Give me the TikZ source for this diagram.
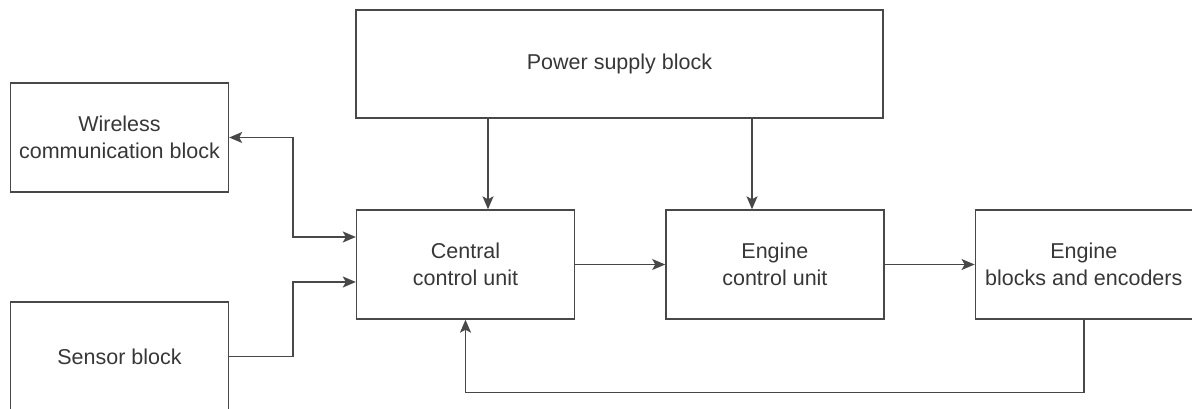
\documentclass[tikz,border=0pt]{standalone}
\usepackage{fontspec}
\setmainfont{Liberation Sans}
\usepackage{xcolor}
\usepackage{tikz}
\definecolor{lineclr}{RGB}{72,72,72}
\definecolor{textclr}{RGB}{55,55,55}
\usetikzlibrary{arrows.meta,positioning,calc}

\begin{document}
\begin{tikzpicture}[
    x=1pt, y=1pt,
    node distance=90pt,
    box/.style={rectangle, draw=lineclr, line width=1.4pt, minimum width=218pt, minimum height=109pt, align=center, text=textclr, font=\fontsize{21.5pt}{26.5pt}\selectfont},
    arrow/.style={-{Stealth[length=13pt,width=11pt,inset=3pt]}, draw=lineclr, line width=1.4pt},
    dblarrow/.style={{Stealth[length=13pt,width=11pt,inset=3pt]}-{Stealth[length=13pt,width=11pt,inset=3pt]}, draw=lineclr, line width=1.4pt}
]
\useasboundingbox (0,0) rectangle (1192,-409);

\node[box] (central) at (465.5,-264.5) {Central\\control unit};
\node[box, right=90pt of central] (engine) {Engine\\control unit};
\node[box, right=90pt of engine, minimum width=217pt] (blocks) {Engine\\blocks and encoders};
\node[box, minimum width=527pt, minimum height=108pt] (power) at (619.5,-64) {Power supply block};
\node[box] (wireless) at (119.5,-137.5) {Wireless\\communication block};
\node[box] (sensor) at (119.5,-356.5) {Sensor block};

% bend points of the two side links
\coordinate (wbend) at (293,-137.5);
\coordinate (sbend) at (293,-356.5);

\draw[arrow] ([xshift=-131.5pt]power.south) -- ([xshift=-131.5pt]power.south |- central.north);
\draw[arrow] ([xshift=132.5pt]power.south) -- ([xshift=132.5pt]power.south |- engine.north);
\draw[dblarrow] (wireless.east) -- (wbend) |- ([yshift=27.5pt]central.west);
\draw[arrow] (sensor.east) -- (sbend) |- ([yshift=-17.5pt]central.west);
\draw[arrow] (central) -- (engine);
\draw[arrow] (engine) -- (blocks);
\draw[arrow] (blocks.south) -- ++(0,-73pt) -| (central.south);

\end{tikzpicture}
\end{document}
